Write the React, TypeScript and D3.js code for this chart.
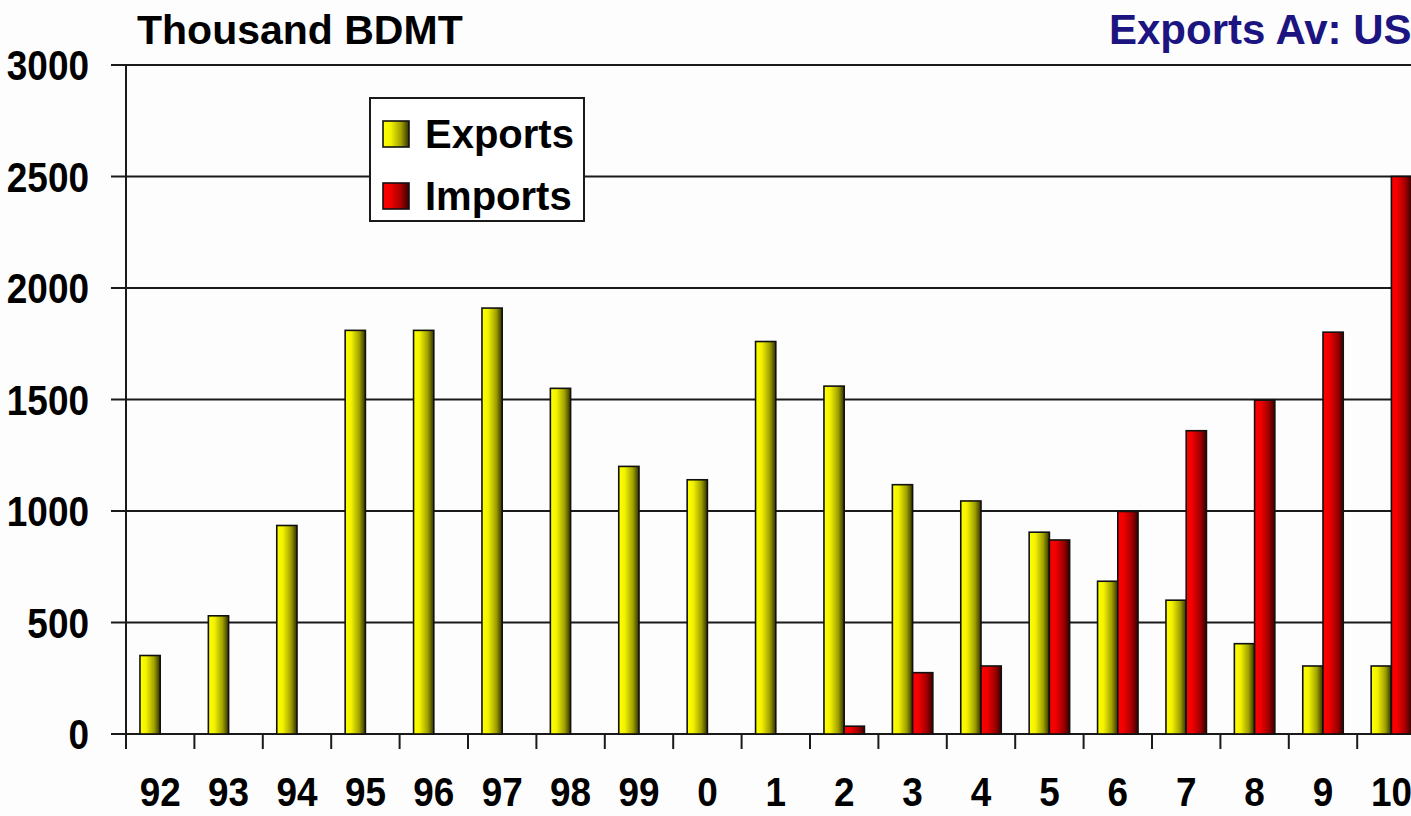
import React from "react";
import * as d3 from "d3";

const categories = ["92", "93", "94", "95", "96", "97", "98", "99", "0", "1", "2", "3", "4", "5", "6", "7", "8", "9", "10"];
const exportsValues = [352, 530, 935, 1810, 1810, 1910, 1550, 1200, 1140, 1760, 1560, 1118, 1045, 905, 685, 600, 405, 305, 305];
const importsValues = [0, 0, 0, 0, 0, 0, 0, 0, 0, 0, 35, 275, 305, 870, 998, 1360, 1497, 1802, 2500];
const yTicks = [0, 500, 1000, 1500, 2000, 2500, 3000];
const seriesNames = ["Exports", "Imports"];

const W = 1411;
const H = 816;
const FONT = "'Liberation Sans', Arial, Helvetica, sans-serif";

export default function App() {
  const x0 = 126;
  const step = 68.4;
  const x = d3.scaleBand<string>().domain(categories).range([x0, x0 + step * categories.length]).padding(0);
  const xs = d3.scaleBand<string>().domain(seriesNames).range([0, x.bandwidth()]).paddingInner(0).paddingOuter(0.69);
  const y = d3.scaleLinear().domain([0, 3000]).range([734, 65]);

  const rows = categories.map((c, i) => ({ c, Exports: exportsValues[i], Imports: importsValues[i] }));
  const fills: Record<string, string> = { Exports: "url(#gYellow)", Imports: "url(#gRed)" };

  return (
    <svg width={W} height={H} style={{ position: "fixed", left: 0, top: 0, background: "#fdfdfd" }} fontFamily={FONT}>
      <defs>
        <linearGradient id="gYellow" x1="0" x2="1" y1="0" y2="0">
          <stop offset="0" stopColor="#ffff00" />
          <stop offset="0.3" stopColor="#f2f200" />
          <stop offset="0.7" stopColor="#a0a000" />
          <stop offset="1" stopColor="#303000" />
        </linearGradient>
        <linearGradient id="gRed" x1="0" x2="1" y1="0" y2="0">
          <stop offset="0" stopColor="#ff0000" />
          <stop offset="0.3" stopColor="#f00000" />
          <stop offset="0.7" stopColor="#a00000" />
          <stop offset="1" stopColor="#3a0000" />
        </linearGradient>
      </defs>
      <rect x={0} y={0} width={W} height={H} fill="#fdfdfd" />

      {yTicks.map((t) => (
        <line key={"g" + t} x1={111} x2={W} y1={y(t)} y2={y(t)} stroke="#1a1a1a" strokeWidth={2} />
      ))}
      <line x1={x0} x2={x0} y1={y(3000)} y2={749} stroke="#1a1a1a" strokeWidth={2} />
      {categories.map((c) => (
        <line key={"t" + c} x1={x(c)!} x2={x(c)!} y1={y(0)} y2={749} stroke="#1a1a1a" strokeWidth={2} />
      ))}

      {rows.map((r) =>
        seriesNames.map((s) => {
          const v = (r as any)[s] as number;
          if (!v) return null;
          return (
            <rect
              key={r.c + s}
              x={x(r.c)! + xs(s)!}
              y={y(v)}
              width={xs.bandwidth()}
              height={y(0) - y(v)}
              fill={fills[s]}
              stroke="#111"
              strokeWidth={1.6}
            />
          );
        })
      )}

      {yTicks.map((t) => (
        <text
          key={"yl" + t}
          transform={`translate(89, ${y(t) + 15}) scale(0.88, 1)`}
          textAnchor="end"
          fontSize={42}
          fontWeight="bold"
          fill="#000"
        >
          {t}
        </text>
      ))}
      {categories.map((c) => (
        <text
          key={"xl" + c}
          transform={`translate(${x(c)! + x.bandwidth() / 2}, 806) scale(0.9, 1)`}
          textAnchor="middle"
          fontSize={41}
          fontWeight="bold"
          fill="#000"
        >
          {c}
        </text>
      ))}

      <text x={137} y={44} fontSize={41} fontWeight="bold" fill="#000">Thousand BDMT</text>
      <text x={1109} y={44} fontSize={42} fontWeight="bold" fill="#1c1480">Exports Av: US</text>

      <rect x={370} y={98} width={214} height={123} fill="#ffffff" stroke="#1a1a1a" strokeWidth={2} />
      {seriesNames.map((s, i) => (
        <g key={"lg" + s} transform={`translate(383, ${121 + i * 62})`}>
          <rect x={0} y={0} width={26} height={26} fill={fills[s]} stroke="#111" strokeWidth={1.6} />
          <text x={42} y={27} fontSize={40} fontWeight="bold" fill="#000">{s}</text>
        </g>
      ))}
    </svg>
  );
}
